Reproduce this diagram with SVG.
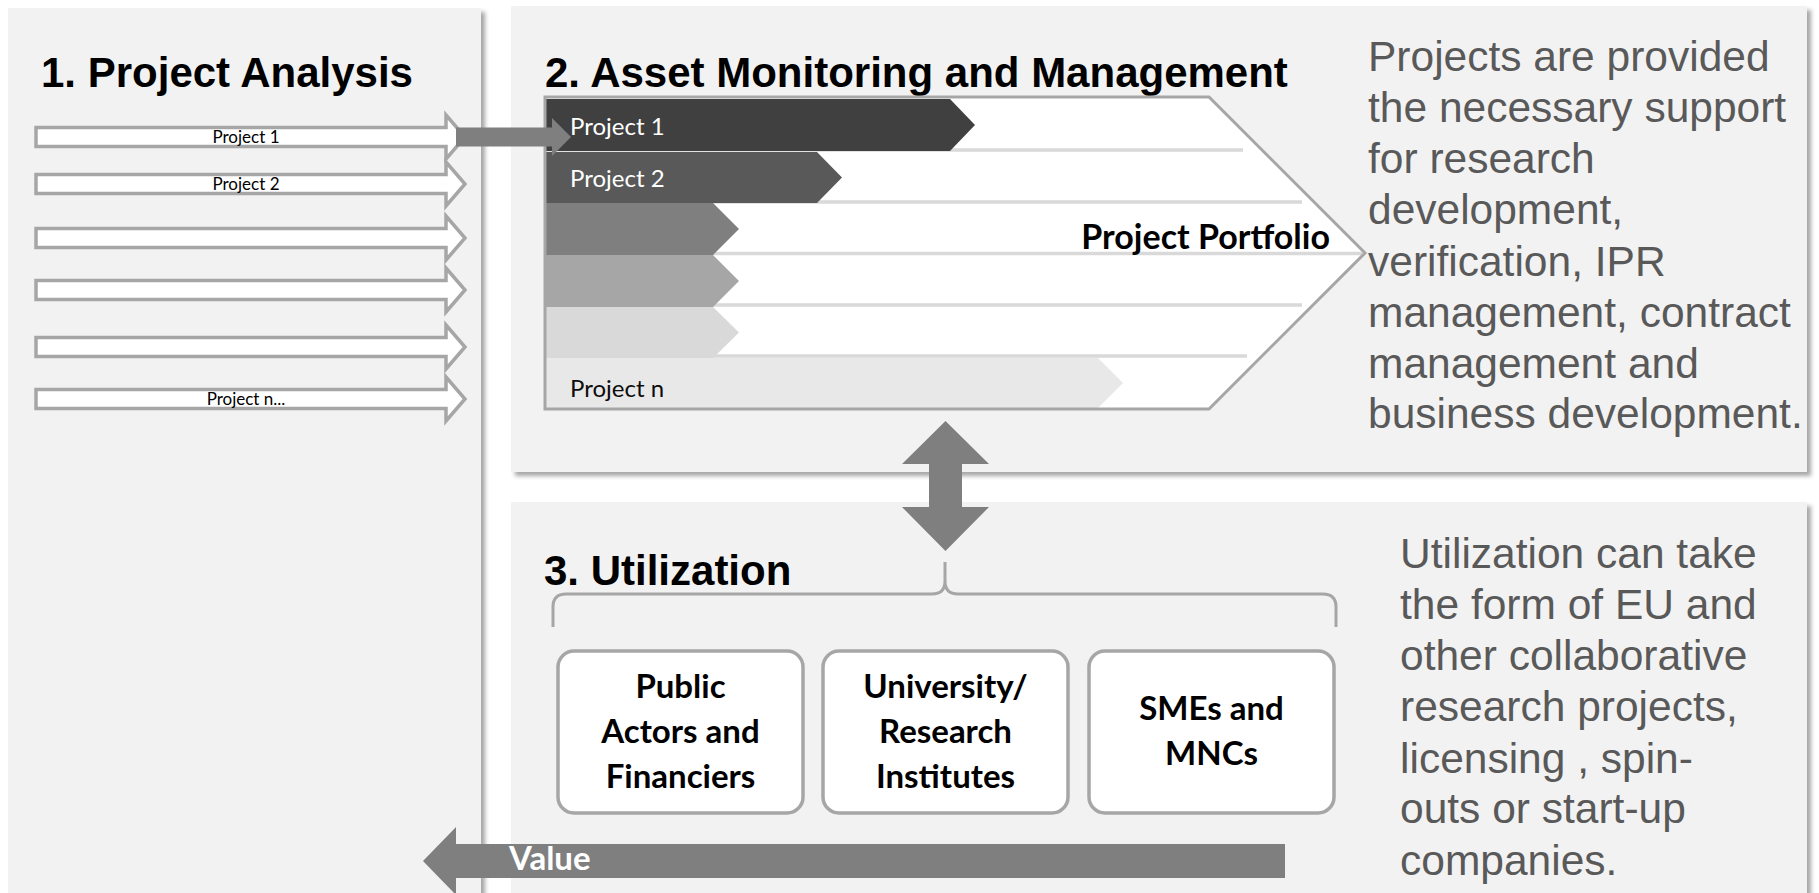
<svg xmlns="http://www.w3.org/2000/svg" xmlns:xlink="http://www.w3.org/1999/xlink" width="1819" height="893" viewBox="0 0 1819 893">
<style>
.panel{fill:#f2f2f2}
.title{font-family:"Liberation Sans",Arial,sans-serif;font-weight:bold;font-size:42px;fill:#000}
.desc{font-family:"Liberation Sans",Arial,sans-serif;font-size:42.5px;fill:#595959}
.cal{font-family:Lato,"Open Sans",sans-serif}
.parrow{fill:#fff;stroke:#a6a6a6;stroke-width:3.5}
.plabel{font-family:Lato,"Open Sans",sans-serif;font-size:17px;fill:#000;text-anchor:middle}
.sep{stroke:#d9d9d9;stroke-width:3.5}
.rowtxt{font-family:Lato,"Open Sans",sans-serif;font-size:24px}
.box{fill:#fff;stroke:#a6a6a6;stroke-width:3.5}
.boxtxt{font-family:Lato,"Open Sans",sans-serif;font-weight:bold;font-size:33px;fill:#000;text-anchor:middle}
.conn{fill:#7f7f7f}
</style>
<defs>
<filter id="sh" x="-5%" y="-5%" width="115%" height="115%">
<feDropShadow dx="4" dy="4" stdDeviation="2" flood-color="#000" flood-opacity="0.35"/>
</filter>
<path id="parr" d="M36,-9.5 L446,-9.5 L446,-22 L465,0 L446,22 L446,9.5 L36,9.5 Z"/>
</defs>
<rect width="1819" height="893" fill="#fff"/>

<g id="panel1">
<rect class="panel" x="8" y="8" width="473" height="900" filter="url(#sh)"/>
<text class="title" x="41" y="87">1. Project Analysis</text>
<g id="p1-arrows">
<use xlink:href="#parr" class="parrow" y="137"/>
<use xlink:href="#parr" class="parrow" y="184"/>
<use xlink:href="#parr" class="parrow" y="238"/>
<use xlink:href="#parr" class="parrow" y="290"/>
<use xlink:href="#parr" class="parrow" y="347"/>
<use xlink:href="#parr" class="parrow" y="399"/>
<text class="plabel" x="246" y="143">Project 1</text>
<text class="plabel" x="246" y="190">Project 2</text>
<text class="plabel" x="246" y="405">Project n...</text>
</g>
</g>

<g id="panel2">
<rect class="panel" x="511" y="6" width="1296" height="466" filter="url(#sh)"/>
<text class="title" x="545" y="87" font-size="43">2. Asset Monitoring and Management</text>
<g id="portfolio">
<path d="M545,97 L1209,97 L1365,253 L1209,409 L545,409 Z" fill="#fff"/>
<line class="sep" x1="546" y1="150" x2="1243" y2="150"/>
<line class="sep" x1="546" y1="202" x2="1302" y2="202"/>
<line class="sep" x1="546" y1="253.5" x2="1362" y2="253.5"/>
<line class="sep" x1="546" y1="305" x2="1302" y2="305"/>
<line class="sep" x1="546" y1="356" x2="1247" y2="356"/>
<path d="M546,99 L950,99 L975,125 L950,151 L546,151 Z" fill="#404040"/>
<path d="M546,152 L817,152 L842,177.5 L817,203 L546,203 Z" fill="#595959"/>
<path d="M546,203 L713,203 L739,229 L713,255 L546,255 Z" fill="#7f7f7f"/>
<path d="M546,255 L713,255 L739,281 L713,307 L546,307 Z" fill="#a6a6a6"/>
<path d="M546,307 L713,307 L739,332.5 L713,358 L546,358 Z" fill="#d9d9d9"/>
<path d="M546,358 L1098,358 L1123,383 L1098,408 L546,408 Z" fill="#e8e8e8"/>
<path d="M545,97 L1209,97 L1365,253 L1209,409 L545,409 Z" fill="none" stroke="#a6a6a6" stroke-width="3"/>
<text class="rowtxt" x="570" y="135" fill="#fff">Project 1</text>
<text class="rowtxt" x="570" y="187" fill="#fff">Project 2</text>
<text class="rowtxt" x="570" y="397" fill="#0d0d0d">Project n</text>
<text class="cal" x="1330" y="249" font-size="34" font-weight="bold" text-anchor="end" fill="#000">Project Portfolio</text>
</g>
<text class="desc">
<tspan x="1368" y="71">Projects are provided</tspan>
<tspan x="1368" y="122">the necessary support</tspan>
<tspan x="1368" y="173">for research</tspan>
<tspan x="1368" y="224">development,</tspan>
<tspan x="1368" y="276">verification, IPR</tspan>
<tspan x="1368" y="327">management, contract</tspan>
<tspan x="1368" y="378">management and</tspan>
<tspan x="1368" y="428">business development.</tspan>
</text>
</g>

<g id="panel3">
<rect class="panel" x="511" y="502" width="1296" height="420" filter="url(#sh)"/>
<text class="title" x="544" y="585">3. Utilization</text>
<path id="brace" d="M553,627 L553,607 Q553,594 566,594 L932,594 Q945,594 945,581 L945,562 L945,581 Q945,594 958,594 L1323,594 Q1336,594 1336,607 L1336,627" fill="none" stroke="#a6a6a6" stroke-width="3"/>
<text class="desc">
<tspan x="1400" y="568">Utilization can take</tspan>
<tspan x="1400" y="619">the form of EU and</tspan>
<tspan x="1400" y="670">other collaborative</tspan>
<tspan x="1400" y="721">research projects,</tspan>
<tspan x="1400" y="773">licensing , spin-</tspan>
<tspan x="1400" y="823">outs or start-up</tspan>
<tspan x="1400" y="875">companies.</tspan>
</text>
</g>

<g id="box-public">
<rect class="box" x="558" y="651" width="245" height="162" rx="16"/>
<text class="boxtxt"><tspan x="680.5" y="698">Public</tspan><tspan x="680.5" y="743">Actors and</tspan><tspan x="680.5" y="788">Financiers</tspan></text>
</g>
<g id="box-university">
<rect class="box" x="823" y="651" width="245" height="162" rx="16"/>
<text class="boxtxt"><tspan x="945.5" y="698">University/</tspan><tspan x="945.5" y="743">Research</tspan><tspan x="945.5" y="788">Institutes</tspan></text>
</g>
<g id="box-smes">
<rect class="box" x="1089" y="651" width="245" height="162" rx="16"/>
<text class="boxtxt"><tspan x="1211.5" y="720">SMEs and</tspan><tspan x="1211.5" y="765">MNCs</tspan></text>
</g>

<g id="connectors">
<path class="conn" d="M456,127.5 L552,127.5 L552,118 L571,137 L552,156 L552,146.5 L456,146.5 Z"/>
<path class="conn" d="M945.5,421 L989,464 L962,464 L962,507 L989,507 L945.5,551 L902,507 L929,507 L929,464 L902,464 Z"/>
<path class="conn" d="M1285,844 L456,844 L456,827 L423,861 L456,895 L456,878 L1285,878 Z"/>
<text class="cal" x="509" y="870" font-size="33" font-weight="bold" fill="#fff">Value</text>
</g>
</svg>
